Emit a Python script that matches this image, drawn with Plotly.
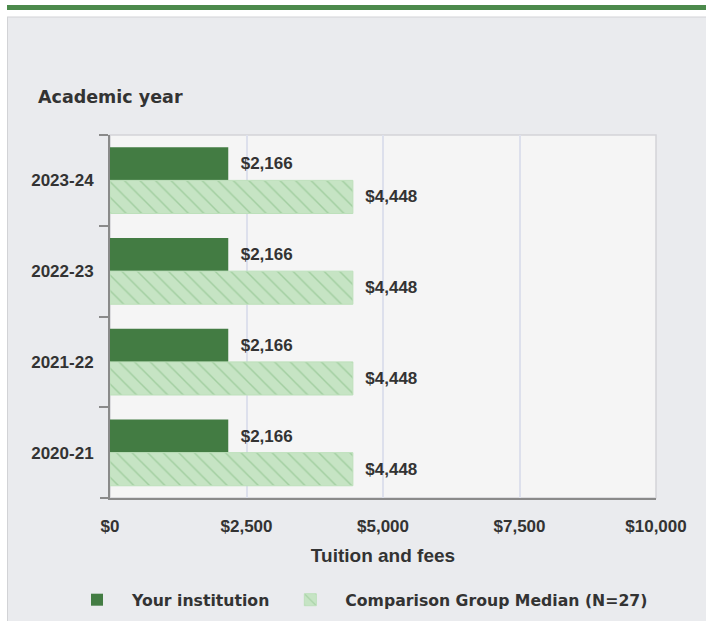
import plotly.graph_objects as go

# ---- data ----
years = ["2023-24", "2022-23", "2021-22", "2020-21"]
your_institution = [2166, 2166, 2166, 2166]
comparison_median = [4448, 4448, 4448, 4448]
x_ticks = [0, 2500, 5000, 7500, 10000]
x_tick_labels = ["$0", "$2,500", "$5,000", "$7,500", "$10,000"]
series_names = ["Your institution", "Comparison Group Median (N=27)"]

# ---- layout geometry (pixels) ----
W, H = 706, 621
L, R, T, B = 110, 50, 135, 123
PW = W - L - R
PH = H - T - B


def px_x(p):
    return (p - L) / PW


def px_y(p):
    return (H - B - p) / PH


DARK = "#437c43"
LIGHT = "#c6e4c4"
TXT = "#333333"
AXIS = "#8a8a8a"

fig = go.Figure()
fig.add_trace(go.Bar(
    y=years, x=your_institution, orientation="h", name=series_names[0],
    marker=dict(color=DARK, line=dict(width=0)),
    texttemplate="\u00a0\u00a0$%{x:,}", textposition="outside",
    textfont=dict(family="Liberation Sans", size=17, color=TXT, weight="bold"),
    cliponaxis=False, hoverinfo="skip",
))
fig.add_trace(go.Bar(
    y=years, x=comparison_median, orientation="h", name=series_names[1],
    marker=dict(color=LIGHT, line=dict(width=1, color="#bde0bb"),
                pattern=dict(shape="\\", fgcolor="#7db87b", size=11, solidity=0.13)),
    texttemplate="\u00a0\u00a0$%{x:,}", textposition="outside",
    textfont=dict(family="Liberation Sans", size=17, color=TXT, weight="bold"),
    cliponaxis=False, hoverinfo="skip",
))

shapes = [
    # white strip at top and left, green header bar (kept inside the figure)
    dict(type="rect", xref="paper", yref="paper", x0=px_x(0), x1=px_x(W),
         y0=px_y(17), y1=px_y(0), fillcolor="white", line=dict(width=0), layer="above"),
    dict(type="rect", xref="paper", yref="paper", x0=px_x(0), x1=px_x(7),
         y0=px_y(H), y1=px_y(0), fillcolor="white", line=dict(width=0), layer="above"),
    dict(type="rect", xref="paper", yref="paper", x0=px_x(7), x1=px_x(W),
         y0=px_y(10), y1=px_y(5), fillcolor="#4c8a4c", line=dict(width=0), layer="above"),
    # panel border lines
    dict(type="line", xref="paper", yref="paper", x0=px_x(7), x1=px_x(W),
         y0=px_y(17), y1=px_y(17), line=dict(color="#d2d3d6", width=1), layer="above"),
    dict(type="line", xref="paper", yref="paper", x0=px_x(7.5), x1=px_x(7.5),
         y0=px_y(17), y1=px_y(H), line=dict(color="#d2d3d6", width=1), layer="above"),
    # plot frame
    dict(type="rect", xref="paper", yref="paper", x0=0, x1=1, y0=0, y1=1,
         line=dict(color="#d4d4d8", width=1.5), layer="below"),
    # x axis line extension to left
    dict(type="line", xref="paper", yref="paper", x0=px_x(100), x1=0, y0=0, y1=0,
         line=dict(color=AXIS, width=2), layer="above"),
]

fig.update_layout(
    width=W, height=H,
    margin=dict(l=L, r=R, t=T, b=B, pad=0, autoexpand=False),
    paper_bgcolor="#eaebee",
    plot_bgcolor="#f5f5f5",
    barmode="group",
    bargap=0.27,
    bargroupgap=0,
    showlegend=True,
    legend=dict(
        orientation="h", x=px_x(62), xanchor="left", y=px_y(600), yanchor="middle",
        font=dict(family="DejaVu Sans", size=15.7, color=TXT, weight="bold"),
        bgcolor="rgba(0,0,0,0)", itemwidth=60, traceorder="normal",
    ),
    xaxis=dict(
        range=[0, 10000], tickvals=x_ticks, ticktext=x_tick_labels,
        showgrid=True, gridcolor="#dde0ec", gridwidth=2, zeroline=False,
        showline=True, linecolor=AXIS, linewidth=2, ticks="",
        ticklabelstandoff=12,
        tickfont=dict(family="Liberation Sans", size=17, color=TXT, weight="bold"),
        title=dict(text="Tuition and fees", standoff=13,
                   font=dict(family="Liberation Sans", size=19, color=TXT, weight="bold")),
        fixedrange=True,
    ),
    yaxis=dict(
        categoryorder="array", categoryarray=years, autorange="reversed",
        showline=True, linecolor=AXIS, linewidth=2,
        ticks="outside", ticklen=9, tickwidth=2, tickcolor=AXIS, tickson="boundaries",
        showgrid=False,
        tickfont=dict(family="Liberation Sans", size=17, color=TXT, weight="bold"),
        ticklabelstandoff=11,
        fixedrange=True,
    ),
    shapes=shapes,
    annotations=[dict(
        text="Academic year", xref="paper", yref="paper", x=px_x(36), y=px_y(97),
        xanchor="left", yanchor="middle", showarrow=False,
        font=dict(family="DejaVu Sans", size=17.5, color=TXT, weight="bold"),
    )],
)

fig.write_html(
    "out.html",
    config={"displayModeBar": False, "staticPlot": True},
    post_script=(
        "document.documentElement.style.margin='0px';"
        "document.body.style.margin='0px';"
        "document.querySelectorAll('.svg-container').forEach(function(c){c.style.display='block';});"
    ),
)
